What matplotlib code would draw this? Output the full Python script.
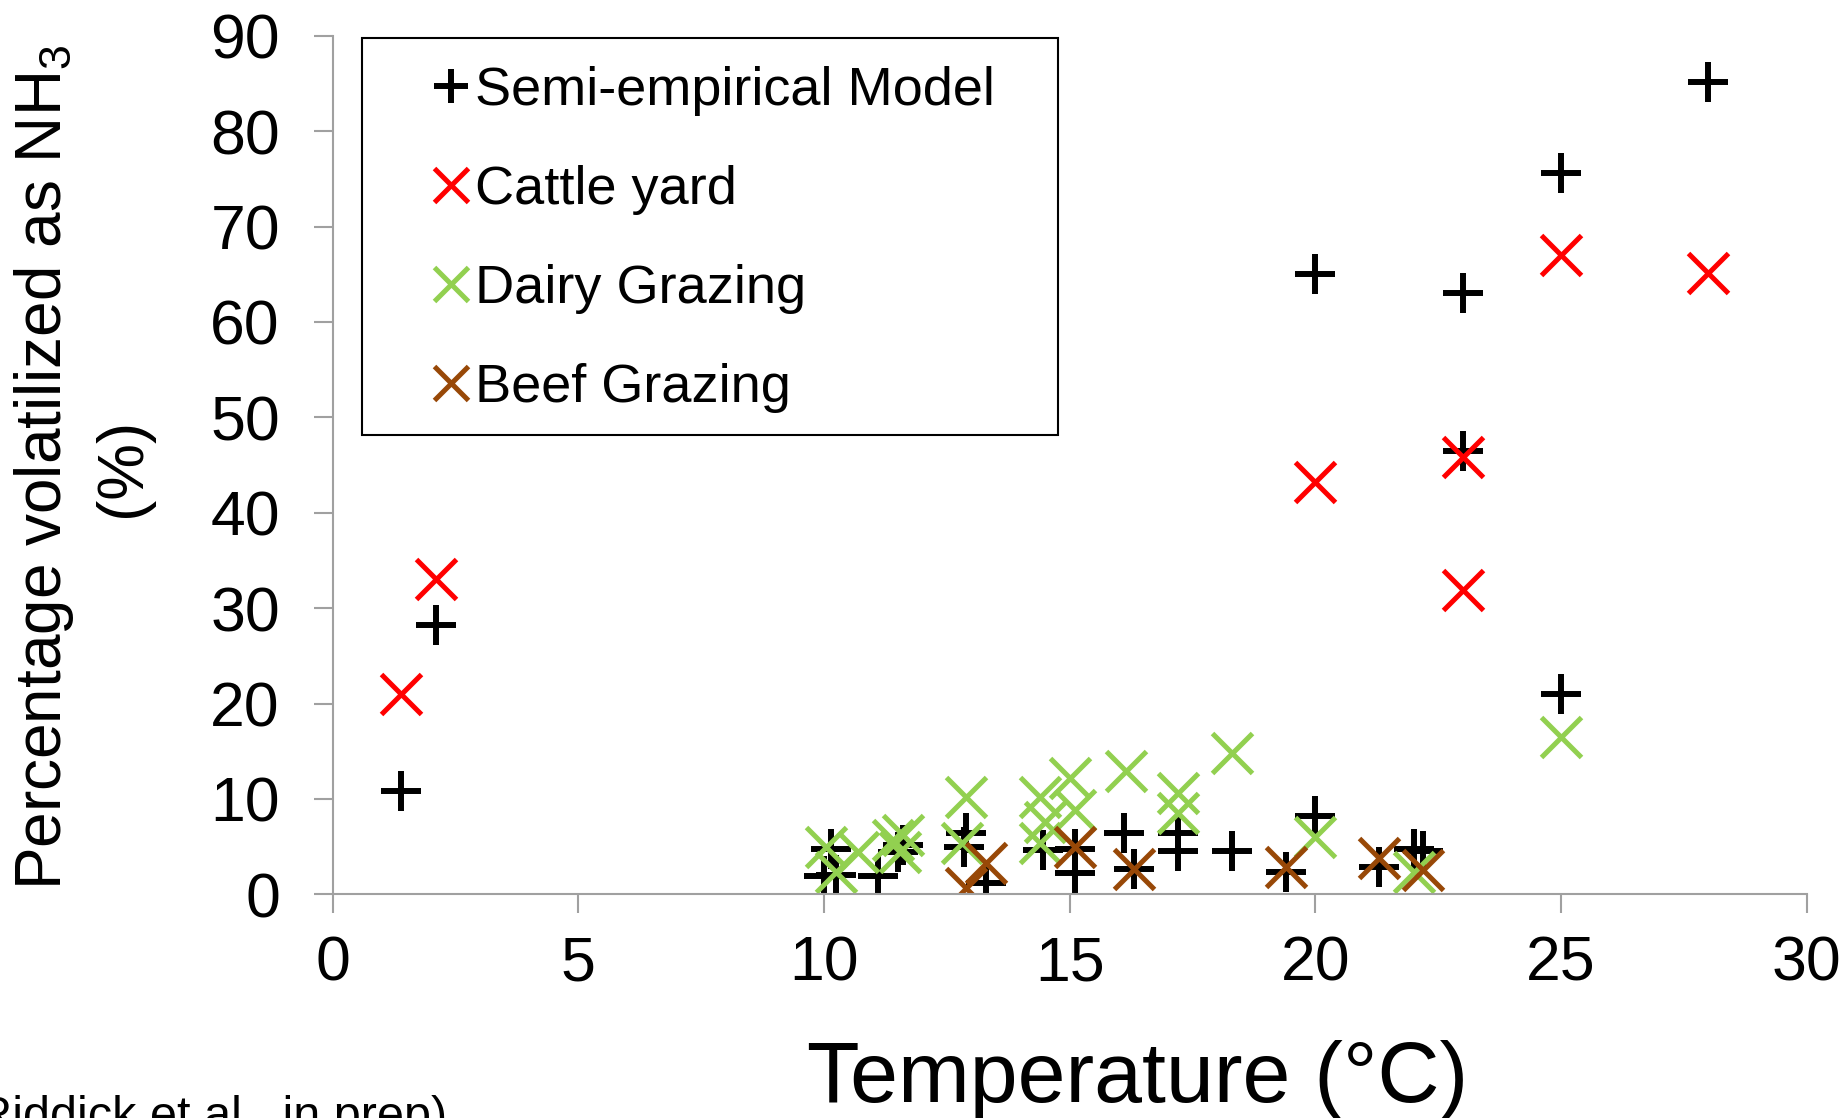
import numpy as np
import matplotlib
matplotlib.use('Agg')
import matplotlib.pyplot as plt
from matplotlib.patches import Rectangle

plt.rcParams['font.family'] = ['Liberation Sans', 'DejaVu Sans']
plt.rcParams['mathtext.fontset'] = 'custom'
plt.rcParams['mathtext.rm'] = 'Liberation Sans'
plt.rcParams['mathtext.it'] = 'Liberation Sans'

# semi-empirical model (black plus)
model_x = [1.4, 2.1, 10.0, 10.15, 10.25, 11.1, 11.6, 11.5, 12.9, 12.85, 13.3,
           14.45, 15.1, 15.1, 16.1, 16.3, 17.2, 17.2, 18.3, 19.4, 20.0, 20.0,
           21.3, 22.0, 22.2, 23.0, 23.0, 25.0, 25.0, 28.0]
model_y = [10.8, 28.2, 1.9, 4.8, 2.0, 1.9, 5.2, 4.4, 6.4, 5.0, 1.2,
           4.7, 4.8, 2.2, 6.4, 2.7, 6.4, 4.5, 4.5, 2.4, 65.0, 8.2,
           2.9, 4.8, 4.5, 46.5, 63.0, 75.6, 21.0, 85.2]

# cattle yard (red)
cattle_x = [1.4, 2.1, 20.0, 23.0, 23.0, 25.0, 28.0]
cattle_y = [21.0, 33.1, 43.2, 45.9, 31.9, 67.0, 65.1]

# dairy grazing (green)
dairy_x = [10.05, 10.25, 10.7, 11.4, 11.55, 11.6, 12.9, 12.8, 14.4, 14.4, 14.5,
           15.0, 15.1, 16.15, 17.2, 17.2, 18.3, 20.0, 22.0, 25.0]
dairy_y = [5.0, 2.3, 4.4, 5.7, 4.4, 6.2, 10.2, 5.4, 10.2, 5.4, 7.6,
           12.2, 8.8, 12.9, 10.6, 8.5, 14.8, 6.0, 2.4, 16.5]

# beef grazing (brown)
beef_x = [12.9, 13.3, 15.1, 16.3, 19.4, 21.3, 22.2]
beef_y = [0.7, 3.3, 5.0, 2.7, 2.9, 3.8, 2.6]

red = '#FF0000'
green = '#92D050'
brown = '#984807'
grey = '#A0A0A0'

fig = plt.figure(figsize=(18.43, 11.18), dpi=100)
ax = fig.add_axes([0.1805, 0.200, 0.7998, 0.768])

ax.plot(model_x, model_y, '+', color='black', ms=29, mew=4.3, ls='none', label='Semi-empirical Model')
ax.plot(cattle_x, cattle_y, 'x', color=red, ms=29, mew=3.6, ls='none', label='Cattle yard')
ax.plot(dairy_x, dairy_y, 'x', color=green, ms=29, mew=3.6, ls='none', label='Dairy Grazing')
ax.plot(beef_x, beef_y, 'x', color=brown, ms=29, mew=3.6, ls='none', label='Beef Grazing')

ax.set_xlim(0, 30)
ax.set_ylim(0, 90)
ax.set_xticks(np.arange(0, 31, 5))
ax.set_yticks(np.arange(0, 91, 10))
for s in ['top', 'right']:
    ax.spines[s].set_visible(False)
for s in ['left', 'bottom']:
    ax.spines[s].set_color(grey)
    ax.spines[s].set_linewidth(1.5)
ax.tick_params(axis='both', direction='out', length=14, width=1.5, color=grey,
               labelsize=45)
ax.tick_params(axis='y', pad=24)
ax.tick_params(axis='x', pad=15)
for lab in ax.get_xticklabels() + ax.get_yticklabels():
    lab.set_clip_on(False)

# legend box
ax.add_patch(Rectangle((0.02, 0.535), 0.472, 0.462, transform=ax.transAxes,
                       fill=False, edgecolor='black', lw=1.5, clip_on=False, zorder=5))
leg = ax.legend(loc='upper left', bbox_to_anchor=(0.049, 0.996), frameon=False,
                fontsize=39, handlelength=0.7, handletextpad=0.1, borderpad=0,
                labelspacing=0.9, markerscale=0.85)

fig.text(0.617, 0.0146, 'Temperature (\u00b0C)', fontsize=62, ha='center', va='baseline')
fig.text(0.024, 0.582, 'Percentage volatilized as NH$_3$', fontsize=46, rotation=90,
         ha='center', va='center')
fig.text(0.067, 0.582, '(%)', fontsize=46, rotation=90, ha='center', va='center')
fig.text(0.2424, -0.0107, '(Riddick et al., in prep)', fontsize=35, ha='right', va='baseline')

fig.savefig('out.png', dpi=100)
